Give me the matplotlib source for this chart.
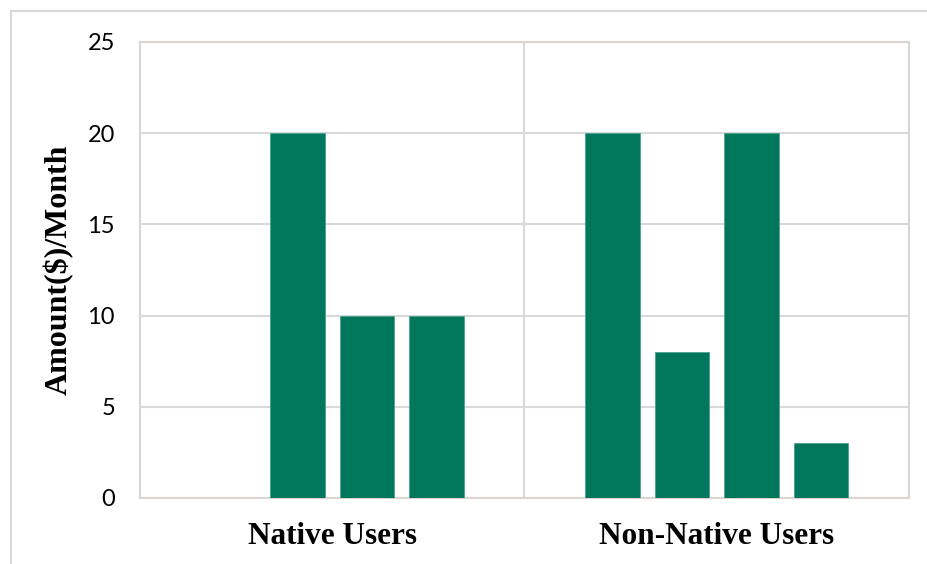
import matplotlib.pyplot as plt
import matplotlib.patches as patches
import numpy as np

# chart values
categories = ["Native Users", "Non-Native Users"]
native = [0, 20, 10, 10]
non_native = [20, 8, 20, 3]
y_ticks = [0, 5, 10, 15, 20, 25]

bar_color = "#00765A"
grid_color = "#D9D9D9"

fig = plt.figure(figsize=(9.28, 5.64), dpi=100)
ax = fig.add_axes([140 / 928, 1 - 498 / 564, 769 / 928, 456 / 564])

# outer chart border
fig.patches.append(patches.Rectangle((11 / 928, -0.1), 1.2, 1 - 11 / 564 + 0.1,
                                     transform=fig.transFigure, fill=False,
                                     edgecolor="#D9D9D9", linewidth=1.6))

slot = 0.1805
width = 0.142
offsets = (np.arange(4) - 1.5) * slot
for i, values in enumerate([native, non_native]):
    ax.bar(i + offsets, values, width=width, color=bar_color,
           edgecolor="#3FA088", linewidth=0.5, zorder=3)

ax.set_xlim(-0.5, 1.5)
ax.set_ylim(0, 25)
ax.set_yticks(y_ticks)
ax.set_yticklabels([str(t) for t in y_ticks], fontfamily="Lato", fontsize=17)
ax.set_xticks(range(len(categories)))
ax.set_xticklabels(categories, fontfamily="Liberation Serif", fontweight="bold", fontsize=22.5)
ax.set_xticks([0.5], minor=True)
ax.tick_params(axis="both", which="both", length=0)
ax.tick_params(axis="y", pad=18)
ax.tick_params(axis="x", pad=17)

ax.grid(axis="y", color=grid_color, linewidth=1.5, zorder=0)
ax.grid(axis="x", which="minor", color=grid_color, linewidth=1.5, zorder=0)
ax.grid(axis="x", which="major", visible=False)

for s in ax.spines.values():
    s.set_color("#DAD5D0")
    s.set_linewidth(1.5)

ax.set_ylabel("Amount($)/Month", fontfamily="Liberation Serif", fontweight="bold",
              fontsize=23, labelpad=10)

fig.savefig("out.png", dpi=100)
